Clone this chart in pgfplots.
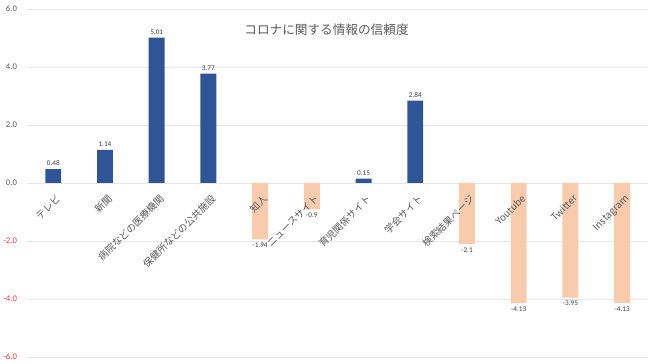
\documentclass[border=0pt]{standalone}
\usepackage{pgfplots}
\pgfplotsset{compat=1.18}
\usepackage{fontspec}
\setmainfont{Carlito}
\newfontfamily\jp{Noto Sans CJK JP}
\definecolor{barblue}{HTML}{2F5597}
\definecolor{barpeach}{HTML}{F8CBAD}
\definecolor{txtgray}{HTML}{595959}
\definecolor{valgray}{HTML}{404040}
\definecolor{gridgray}{HTML}{E6E6E6}
\definecolor{negred}{HTML}{FF3B3B}
\begin{document}
\begin{tikzpicture}
\begin{axis}[
  axis on top,
  at={(0,0)}, anchor=south west,
  scale only axis, width=624pt, height=350pt,
  xmin=-0.5, xmax=11.5, ymin=-6, ymax=6,
  axis x line=middle, axis y line=left,
  axis line style={draw=none},
  ybar, bar width=16pt,
  xtick={0,...,11},
  xticklabels={テレビ,新聞,病院などの医療機関,保健所などの公共施設,知人,ニュースサイト,育児関係サイト,学会サイト,検索結果ページ,Youtube,Twitter,Instagram},
  xticklabel style={xshift=2pt, yshift=-10pt, rotate=45, anchor=north east, font=\jp\fontsize{9.8}{11}\selectfont, text=txtgray, inner sep=0.5pt},
  ytick={-6,-4,-2,0,2,4,6},
  yticklabels={\textcolor{negred}{-6.0},\textcolor{negred}{-4.0},\textcolor{negred}{-2.0},0.0,2.0,4.0,6.0},
  yticklabel style={font=\fontsize{8.7}{10}\selectfont, text=txtgray, xshift=-7pt},
  major tick length=0pt,
  nodes near coords,
  every node near coord/.append style={font=\fontsize{7.3}{8}\selectfont, text=valgray},
  /pgf/number format/assume math mode=true,
  clip=false,
]
\foreach \g in {-6,-4,-2,0,2,4,6} {
  \edef\tmp{\noexpand\draw[gridgray, line width=0.7pt] (axis cs:-0.5,\g) -- (axis cs:11.5,\g);}
  \tmp
}
\addplot[fill=barblue, draw=none, bar shift=0pt] coordinates {(0,0.48) (1,1.14) (2,5.01) (3,3.77) (6,0.15) (7,2.84)};
\addplot[fill=barpeach, draw=none, bar shift=0pt] coordinates {(4,-1.94) (5,-0.9) (8,-2.1) (9,-4.13) (10,-3.95) (11,-4.13)};
\node[font=\jp\fontsize{12.7}{14}\selectfont, text=txtgray] at (rel axis cs:0.482,0.94) {コロナに関する情報の信頼度};
\end{axis}
\path (-24pt,-5pt) rectangle (626pt,359pt);
\end{tikzpicture}
\end{document}
